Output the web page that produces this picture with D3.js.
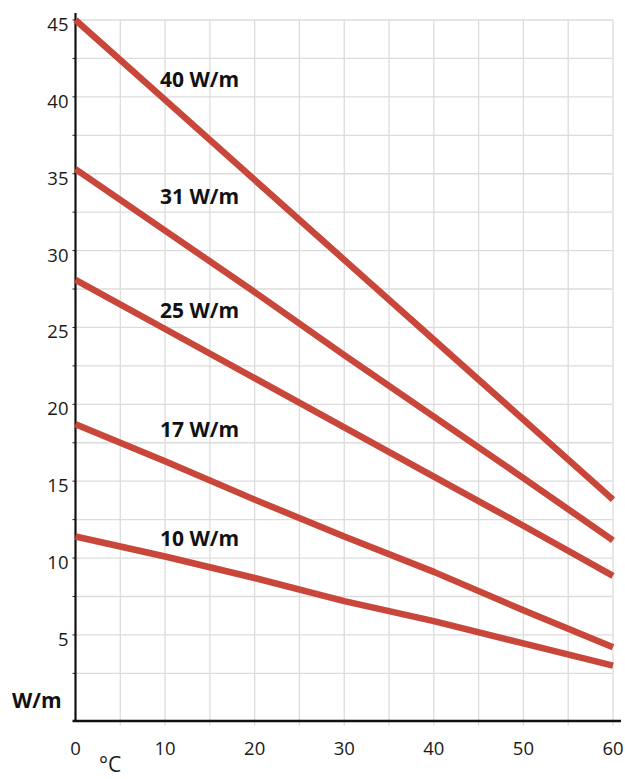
<!DOCTYPE html>
<html>
<head>
<meta charset="utf-8">
<script src="https://cdn.jsdelivr.net/npm/d3@7"></script>
<style>
  body { margin: 0; background: #fff; }
  svg { display: block; font-family: "Open Sans", sans-serif; }
</style>
</head>
<body>
<div id="chart"></div>
<script>
// data
const temps = [0, 10, 20, 30, 40, 50, 60];
const names = ["40 W/m", "31 W/m", "25 W/m", "17 W/m", "10 W/m"];
const w40 = [45, 39.8, 34.6, 29.4, 24.2, 19.0, 13.8];
const w31 = [35.3, 31.3, 27.3, 23.2, 19.2, 15.2, 11.15];
const w25 = [28.1, 24.9, 21.7, 18.5, 15.3, 12.1, 8.84];
const w17 = [18.7, 16.3, 13.8, 11.4, 9.1, 6.6, 4.2];
const w10 = [11.4, 10.1, 8.7, 7.2, 5.9, 4.45, 3.0];
const labelAt = [40.65, 33.0, 25.6, 17.9, 10.8];
const yTicks = [5, 10, 15, 20, 25, 30, 35, 40, 45];
const xTicks = [0, 10, 20, 30, 40, 50, 60];

const series = [w40, w31, w25, w17, w10];

const W = 625, H = 779;
const svg = d3.select("#chart").append("svg")
  .attr("width", W).attr("height", H);

const x = d3.scaleLinear().domain([0, 60]).range([75.5, 613]);
const y = d3.scaleLinear().domain([-0.6, 45]).range([721, 20]);

// grid
const grid = svg.append("g").attr("stroke", "#dcdcdc").attr("stroke-width", 1.3);
grid.selectAll(".h").data(d3.range(2.5, 45.1, 2.5)).enter().append("line")
  .attr("x1", x(0)).attr("x2", x(60))
  .attr("y1", d => y(d)).attr("y2", d => y(d));
grid.selectAll(".v").data(d3.range(5, 60.1, 5)).enter().append("line")
  .attr("x1", d => x(d)).attr("x2", d => x(d))
  .attr("y1", y(45)).attr("y2", y(-0.6) + 4.5);

// small ticks on left of y axis
svg.append("g").selectAll("line").data(d3.range(2.5, 45.1, 2.5)).enter().append("line")
  .attr("x1", x(0) - 3).attr("x2", x(0))
  .attr("y1", d => y(d)).attr("y2", d => y(d))
  .attr("stroke", "#222").attr("stroke-width", 1);

// axes
svg.append("line")
  .attr("x1", x(0)).attr("x2", x(0))
  .attr("y1", 13).attr("y2", y(-0.6) + 1)
  .attr("stroke", "#111").attr("stroke-width", 2.2);
svg.append("line")
  .attr("x1", x(0) - 3).attr("x2", 621)
  .attr("y1", y(-0.6)).attr("y2", y(-0.6))
  .attr("stroke", "#111").attr("stroke-width", 2.6);

// tick labels
svg.append("g").selectAll("text").data(yTicks).enter().append("text")
  .attr("x", 68.5).attr("y", d => y(d) + 11)
  .attr("text-anchor", "end")
  .attr("font-size", 18.5).attr("fill", "#1a1a1a")
  .text(d => d);

svg.append("g").selectAll("text").data(xTicks).enter().append("text")
  .attr("x", d => x(d)).attr("y", 755)
  .attr("text-anchor", "middle")
  .attr("font-size", 18.5).attr("fill", "#1a1a1a")
  .text(d => d);

// lines
const line = d3.line().x((d, i) => x(temps[i])).y(d => y(d));
svg.append("g").selectAll("path").data(series).enter().append("path")
  .attr("d", line)
  .attr("fill", "none")
  .attr("stroke", "#c9473a")
  .attr("stroke-width", 6.5)
  .attr("stroke-linejoin", "round");

// series labels
svg.append("g").selectAll("text").data(names).enter().append("text")
  .attr("x", 160)
  .attr("y", (d, i) => y(labelAt[i]))
  .attr("font-size", 21).attr("font-weight", "bold").attr("fill", "#111")
  .text(d => d);

// axis titles
svg.append("text")
  .attr("x", 12).attr("y", 708)
  .attr("font-size", 21).attr("font-weight", "bold").attr("fill", "#111")
  .text("W/m");
svg.append("text")
  .attr("x", 99).attr("y", 772)
  .attr("font-size", 21).attr("fill", "#1a1a1a")
  .text("°C");
</script>
</body>
</html>
